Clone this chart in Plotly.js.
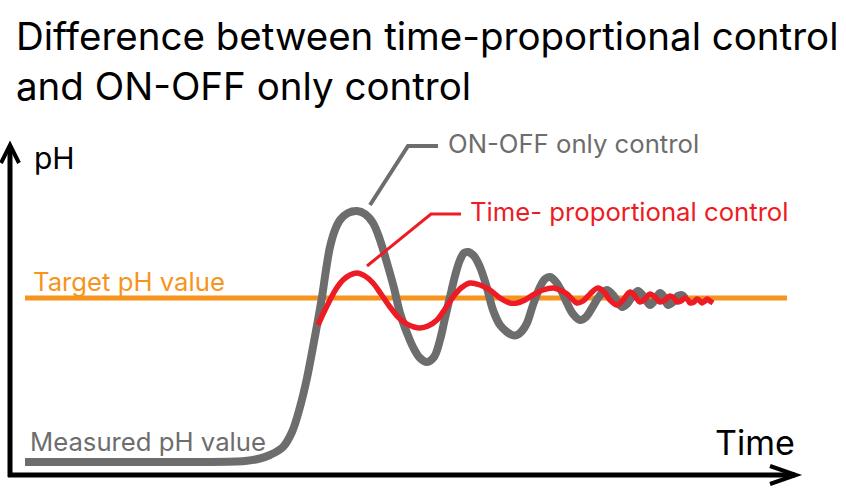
<!DOCTYPE html>
<html>
<head>
<meta charset="utf-8">
<script src="https://cdn.plot.ly/plotly-3.0.1.min.js"></script>
<style>
  html, body { margin: 0; padding: 0; background: #ffffff; }
  #chart { width: 846px; height: 498px; }
</style>
</head>
<body>
<div id="chart"></div>
<script>
// Schematic units: time runs left to right, pH level runs upward (smaller number = higher pH on screen)
const timeOnOff = [25,100,200,245,258,270,283,292,300,307,313,318,322,326,330,335,340,348,357,365,373,380,387,394,400,407,413,420,427,434,440,445,450,455,460,464,468,474,480,487,493,500,507,512,517,522,527,533,540,545,550,556,562,567,573,580,586,592,598,603,607,613,617,622,627,632,638,644,650,655,660,664,668,673,678,682,685];
const phOnOff   = [462,462,462,461,459,455,447,432,407,378,347,320,297,270,247,230,220,213,211,214,223,240,263,288,313,333,347,358,362,357,340,318,297,276,260,253,252,256,267,288,310,325,332,335,335,331,323,305,287,279,277,282,292,303,314,320,317,308,298,292,290,295,301,307,304,297,291,297,305,300,293,297,305,302,296,295,298];

const timeProp = [318,324,330,336,343,350,357,365,373,381,390,398,407,414,420,428,437,445,453,461,470,480,490,500,510,517,525,533,543,553,560,567,572,577,583,590,598,604,610,617,623,630,635,640,645,650,655,660,665,670,674,677,681,685,688,690,694,697,700,702,705,707,710,713];
const phProp   = [325,312,300,289,280,275,273,276,283,294,307,317,324,327,328,326,320,309,297,288,283,285,290,298,303,303,300,295,290,288,290,294,299,303,301,294,288,292,300,305,300,292,296,302,299,294,297,302,300,296,298,302,301,298,300,303,302,299,301,303,301,299,301,303];

const timeTarget = [25, 787];
const phTarget   = [298, 298];

const titleText = "Difference between time-proportional control<br>and ON-OFF only control";
const labelTarget = "Target pH value";
const labelMeasured = "Measured pH value";
const labelOnOff = "ON-OFF only control";
const labelProp = "Time- proportional control";
const axisY = "pH";
const axisX = "Time";

const GRAY = "#6d6d6d", RED = "#ed1c24", ORANGE = "#f7941d";
const FONT = "Inter, 'Noto Sans', sans-serif";

const traces = [
  { x: timeTarget, y: phTarget, mode: "lines", line: { color: ORANGE, width: 5 }, hoverinfo: "skip" },
  { x: timeOnOff, y: phOnOff, mode: "lines", line: { color: GRAY, width: 8, shape: "spline", smoothing: 1 }, hoverinfo: "skip" },
  { x: timeProp, y: phProp, mode: "lines", line: { color: RED, width: 5.5, shape: "spline", smoothing: 1 }, hoverinfo: "skip" }
];

const shapes = [
  // axes
  { type: "line", x0: 10, y0: 477, x1: 10, y1: 146, line: { color: "#000", width: 5 } },
  { type: "line", x0: 8, y0: 475, x1: 795, y1: 475, line: { color: "#000", width: 5 } },
  { type: "path", path: "M 1 163 L 10 145 L 19 163", line: { color: "#000", width: 4 } },
  { type: "path", path: "M 770 466 L 796 475 L 770 484", line: { color: "#000", width: 4 } },
  // leader lines
  { type: "path", path: "M 370 205 L 408 146 L 438 146", line: { color: GRAY, width: 4 } },
  { type: "path", path: "M 367 266 L 431 214 L 461 214", line: { color: RED, width: 3 } }
];

const ann = (text, x, y, size, color, xanchor) => ({
  text, x, y, xref: "x", yref: "y", xanchor: xanchor || "left", yanchor: "middle",
  showarrow: false, font: { family: FONT, size, color }
});

const LBL = 25.7;
const annotations = [
  ann(axisY, 32, 158, 30, "#000"),
  ann(axisX, 797, 442, 34, "#000", "right"),
  ann(labelTarget, 31, 281, LBL, ORANGE),
  ann(labelMeasured, 28, 441, LBL, GRAY),
  ann(labelOnOff, 446, 143, LBL, GRAY),
  ann(labelProp, 468, 211, LBL, RED)
];

const layout = {
  width: 846, height: 498,
  margin: { l: 0, r: 0, t: 0, b: 0 },
  paper_bgcolor: "#fff", plot_bgcolor: "#fff",
  showlegend: false,
  title: {
    text: titleText, x: 16 / 846, xanchor: "left", xref: "paper",
    y: 1 - 50 / 498, yanchor: "top", yref: "container",
    font: { family: FONT, size: 38.5, color: "#000" }
  },
  xaxis: { range: [0, 846], visible: false, fixedrange: true },
  yaxis: { range: [498, 0], visible: false, fixedrange: true },
  shapes, annotations
};

Plotly.newPlot("chart", traces, layout, { staticPlot: true, displayModeBar: false });
</script>
</body>
</html>
